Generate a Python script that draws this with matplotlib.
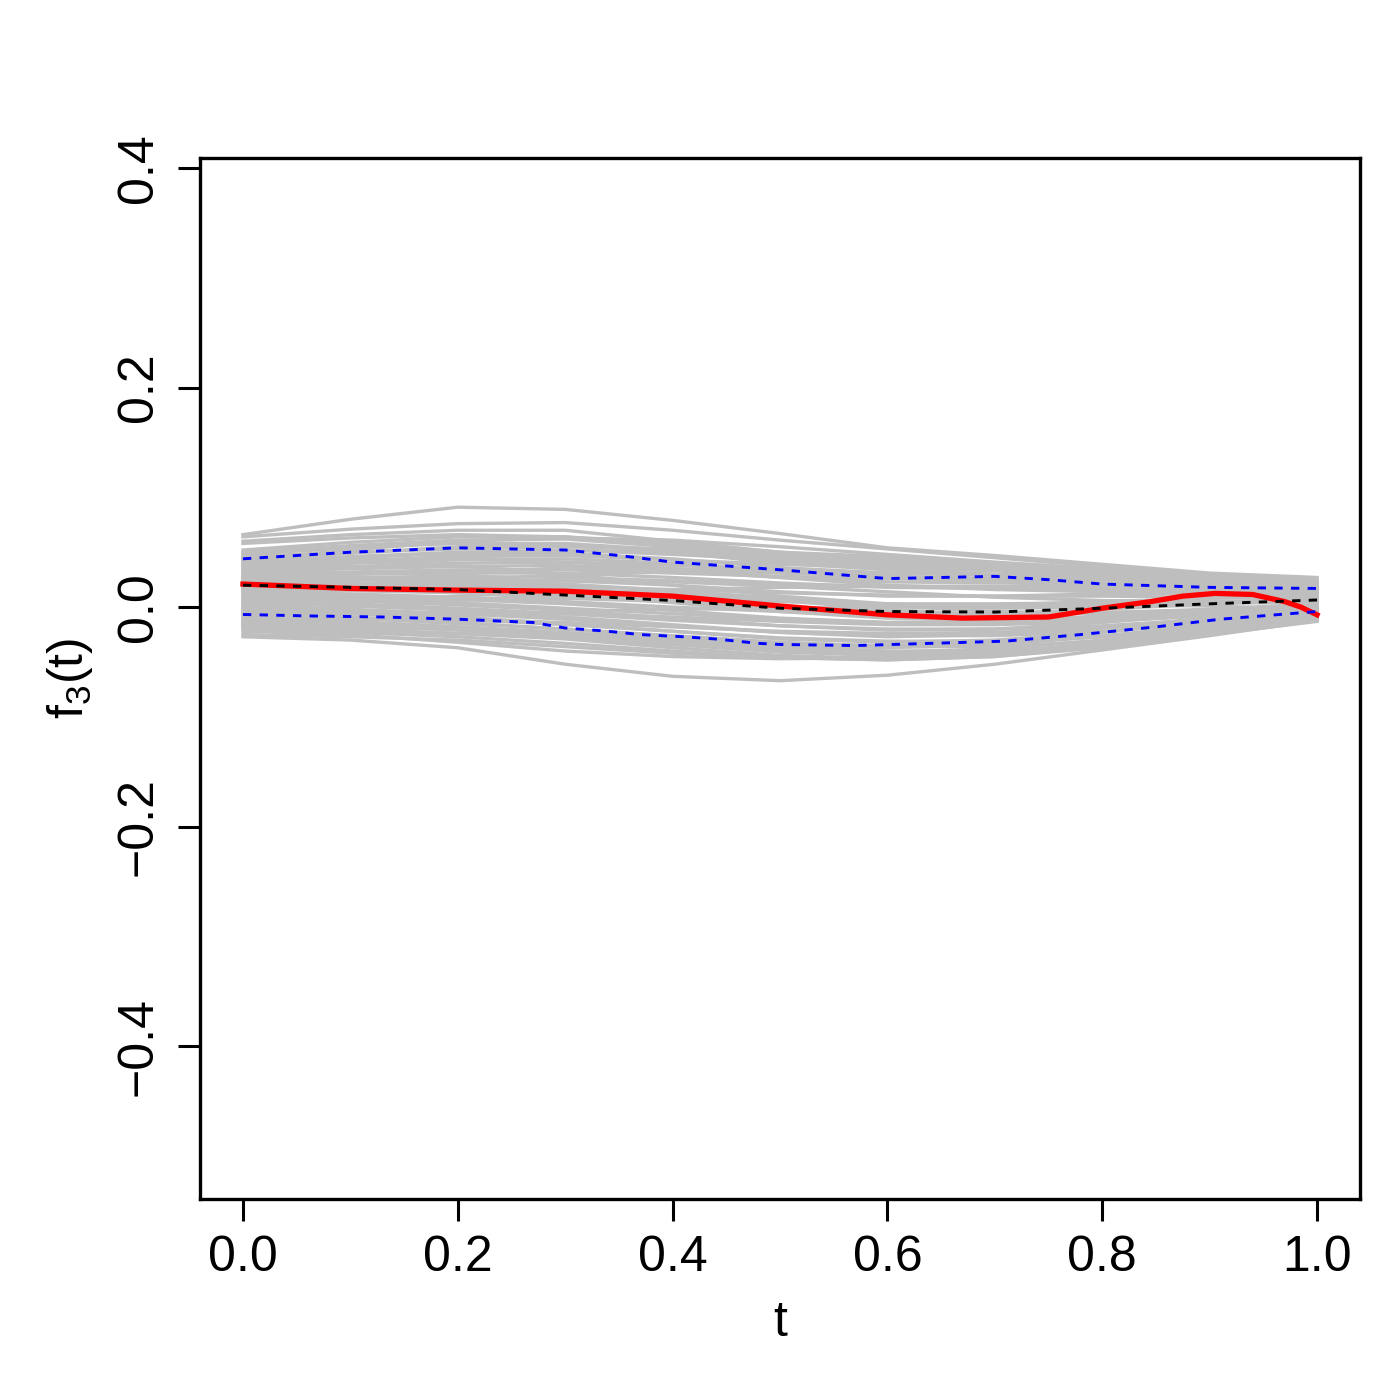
import matplotlib
matplotlib.use("Agg")
import matplotlib.pyplot as plt

plt.rcParams['font.family'] = ['Liberation Sans', 'DejaVu Sans']
plt.rcParams['mathtext.fontset'] = 'custom'
plt.rcParams['mathtext.rm'] = 'Liberation Sans'
plt.rcParams['mathtext.it'] = 'Liberation Sans:italic'
plt.rcParams['lines.scale_dashes'] = False

# grid of t where the grey sample curves were read
t_grid = [0.0, 0.1, 0.2, 0.3, 0.4, 0.5, 0.6, 0.7, 0.8, 0.9, 1.0]

# grey sample curves (inner ones estimated)
grey_curves = [
    [0.066, 0.080, 0.091, 0.089, 0.079, 0.067, 0.054, 0.047, 0.039, 0.031, 0.027],
    [0.064, 0.071, 0.076, 0.077, 0.070, 0.061, 0.053, 0.045, 0.037, 0.029, 0.024],
    [0.060, 0.066, 0.070, 0.070, 0.060, 0.050, 0.046, 0.040, 0.034, 0.027, 0.022],
    [0.058, 0.063, 0.066, 0.064, 0.056, 0.048, 0.043, 0.038, 0.033, 0.026, 0.020],
    [0.052, 0.059, 0.064, 0.064, 0.058, 0.050, 0.044, 0.039, 0.035, 0.030, 0.026],
    [0.050, 0.056, 0.061, 0.062, 0.055, 0.046, 0.040, 0.036, 0.033, 0.029, 0.024],
    [0.048, 0.054, 0.058, 0.058, 0.052, 0.044, 0.041, 0.038, 0.034, 0.030, 0.025],
    [0.046, 0.050, 0.053, 0.055, 0.053, 0.047, 0.042, 0.037, 0.031, 0.026, 0.021],
    [0.044, 0.049, 0.055, 0.057, 0.050, 0.040, 0.034, 0.030, 0.028, 0.027, 0.023],
    [0.042, 0.046, 0.050, 0.052, 0.048, 0.043, 0.038, 0.035, 0.032, 0.028, 0.022],
    [0.040, 0.045, 0.049, 0.049, 0.044, 0.036, 0.031, 0.029, 0.027, 0.024, 0.020],
    [0.038, 0.042, 0.046, 0.047, 0.043, 0.039, 0.036, 0.033, 0.029, 0.023, 0.018],
    [0.036, 0.040, 0.043, 0.044, 0.040, 0.033, 0.028, 0.026, 0.025, 0.022, 0.019],
    [0.034, 0.037, 0.040, 0.041, 0.038, 0.034, 0.031, 0.029, 0.026, 0.021, 0.016],
    [0.032, 0.035, 0.037, 0.038, 0.033, 0.027, 0.023, 0.022, 0.022, 0.020, 0.017],
    [0.030, 0.032, 0.034, 0.034, 0.031, 0.028, 0.026, 0.024, 0.021, 0.017, 0.014],
    [0.028, 0.030, 0.031, 0.031, 0.027, 0.022, 0.018, 0.017, 0.018, 0.017, 0.015],
    [0.026, 0.027, 0.028, 0.027, 0.024, 0.021, 0.019, 0.018, 0.016, 0.013, 0.011],
    [0.024, 0.025, 0.025, 0.024, 0.020, 0.014, 0.010, 0.010, 0.012, 0.013, 0.012],
    [0.022, 0.022, 0.021, 0.019, 0.016, 0.013, 0.011, 0.010, 0.010, 0.009, 0.008],
    [0.020, 0.020, 0.019, 0.017, 0.012, 0.006, 0.002, 0.002, 0.005, 0.008, 0.009],
    [0.018, 0.017, 0.015, 0.012, 0.008, 0.005, 0.003, 0.003, 0.004, 0.004, 0.004],
    [0.016, 0.015, 0.013, 0.010, 0.005, -0.002, -0.006, -0.006, -0.002, 0.003, 0.006],
    [0.014, 0.012, 0.009, 0.005, 0.000, -0.004, -0.007, -0.007, -0.005, -0.002, 0.000],
    [0.012, 0.010, 0.007, 0.003, -0.003, -0.010, -0.014, -0.013, -0.008, -0.002, 0.003],
    [0.010, 0.008, 0.004, -0.001, -0.006, -0.011, -0.014, -0.014, -0.012, -0.007, -0.003],
    [0.008, 0.006, 0.002, -0.003, -0.010, -0.017, -0.021, -0.020, -0.014, -0.006, 0.001],
    [0.006, 0.003, -0.001, -0.006, -0.012, -0.017, -0.020, -0.020, -0.017, -0.011, -0.005],
    [0.004, 0.001, -0.003, -0.009, -0.016, -0.023, -0.027, -0.025, -0.019, -0.010, -0.002],
    [0.002, -0.002, -0.006, -0.011, -0.017, -0.023, -0.026, -0.026, -0.022, -0.015, -0.007],
    [0.000, -0.004, -0.009, -0.015, -0.022, -0.029, -0.032, -0.030, -0.023, -0.013, -0.004],
    [-0.002, -0.006, -0.011, -0.016, -0.022, -0.028, -0.031, -0.031, -0.027, -0.018, -0.008],
    [-0.004, -0.009, -0.014, -0.020, -0.027, -0.034, -0.037, -0.034, -0.027, -0.016, -0.006],
    [-0.006, -0.010, -0.015, -0.020, -0.026, -0.032, -0.036, -0.036, -0.031, -0.021, -0.010],
    [-0.008, -0.013, -0.018, -0.024, -0.031, -0.038, -0.041, -0.038, -0.030, -0.018, -0.007],
    [-0.010, -0.014, -0.018, -0.023, -0.030, -0.036, -0.040, -0.040, -0.034, -0.023, -0.011],
    [-0.012, -0.016, -0.021, -0.027, -0.034, -0.041, -0.044, -0.041, -0.033, -0.020, -0.009],
    [-0.014, -0.017, -0.020, -0.025, -0.032, -0.039, -0.043, -0.042, -0.036, -0.024, -0.012],
    [-0.016, -0.020, -0.024, -0.029, -0.037, -0.044, -0.047, -0.044, -0.036, -0.022, -0.010],
    [-0.018, -0.021, -0.024, -0.028, -0.034, -0.040, -0.044, -0.043, -0.037, -0.025, -0.013],
    [-0.020, -0.023, -0.027, -0.033, -0.040, -0.046, -0.048, -0.045, -0.036, -0.022, -0.010],
    [-0.005, 0.000, 0.006, 0.012, 0.016, 0.018, 0.019, 0.019, 0.018, 0.016, 0.013],
    [0.030, 0.026, 0.020, 0.012, 0.004, -0.004, -0.010, -0.012, -0.010, -0.004, 0.002],
    [0.010, 0.016, 0.024, 0.030, 0.032, 0.031, 0.028, 0.025, 0.022, 0.018, 0.014],
    [0.045, 0.043, 0.038, 0.030, 0.020, 0.010, 0.003, -0.001, 0.000, 0.004, 0.008],
    [-0.015, -0.012, -0.008, -0.004, -0.002, -0.001, 0.000, 0.001, 0.002, 0.001, -0.002],
    [0.035, 0.040, 0.047, 0.052, 0.050, 0.045, 0.040, 0.035, 0.030, 0.024, 0.019],
    [0.000, 0.004, 0.010, 0.015, 0.013, 0.006, -0.002, -0.008, -0.010, -0.006, 0.000],
    [0.020, 0.024, 0.030, 0.036, 0.040, 0.041, 0.039, 0.034, 0.028, 0.021, 0.015],
    [0.027, 0.030, 0.033, 0.035, 0.035, 0.032, 0.028, 0.023, 0.018, 0.013, 0.009],
    [0.015, 0.018, 0.022, 0.024, 0.023, 0.019, 0.014, 0.009, 0.006, 0.005, 0.005],
    [0.005, 0.007, 0.008, 0.008, 0.005, 0.000, -0.004, -0.006, -0.005, -0.003, -0.001],
    [-0.007, -0.006, -0.005, -0.006, -0.009, -0.013, -0.016, -0.016, -0.013, -0.008, -0.004],
    [-0.011, -0.011, -0.012, -0.014, -0.018, -0.022, -0.024, -0.023, -0.019, -0.013, -0.006],
    [0.039, 0.043, 0.044, 0.041, 0.035, 0.027, 0.020, 0.016, 0.014, 0.013, 0.012],
    [0.019, 0.021, 0.023, 0.021, 0.015, 0.008, 0.001, -0.004, -0.006, -0.005, -0.002],
    [-0.018, -0.019, -0.020, -0.024, -0.028, -0.033, -0.035, -0.032, -0.026, -0.017, -0.008],
    [0.043, 0.052, 0.060, 0.063, 0.061, 0.055, 0.048, 0.041, 0.035, 0.028, 0.021],
    [-0.025, -0.027, -0.030, -0.036, -0.042, -0.046, -0.048, -0.045, -0.037, -0.024, -0.011],
    [-0.022, -0.025, -0.032, -0.040, -0.045, -0.047, -0.046, -0.042, -0.034, -0.022, -0.010],
    [-0.027, -0.030, -0.037, -0.052, -0.063, -0.067, -0.062, -0.052, -0.039, -0.026, -0.012],
]

# red estimate
red_t = [0.0, 0.1, 0.2, 0.3, 0.4, 0.5, 0.6, 0.67, 0.75, 0.8, 0.845, 0.875,
         0.905, 0.94, 0.97, 0.985, 1.0]
red_vals = [0.021, 0.017, 0.0155, 0.0145, 0.010, 0.001, -0.007, -0.010, -0.009,
            -0.001, 0.005, 0.010, 0.0125, 0.0115, 0.005, 0.000, -0.007]

# black dashed mean
mean_t = [0.0, 0.2, 0.4, 0.5, 0.6, 0.7, 0.8, 0.9, 1.0]
mean_vals = [0.020, 0.016, 0.006, -0.001, -0.004, -0.0045, -0.001, 0.003, 0.0065]

# blue dashed bands
upper_t = [0.0, 0.1, 0.2, 0.3, 0.35, 0.4, 0.5, 0.55, 0.6, 0.7, 0.75, 0.8, 0.9, 1.0]
upper_vals = [0.044, 0.050, 0.054, 0.052, 0.047, 0.041, 0.034, 0.030, 0.026,
              0.028, 0.025, 0.021, 0.018, 0.017]
lower_t = [0.0, 0.06, 0.13, 0.2, 0.27, 0.3, 0.34, 0.37, 0.41, 0.44, 0.48, 0.5,
           0.57, 0.64, 0.71, 0.78, 0.85, 0.91, 1.0]
lower_vals = [-0.0067, -0.008, -0.009, -0.011, -0.014, -0.019, -0.022, -0.025,
              -0.027, -0.029, -0.033, -0.034, -0.035, -0.033, -0.031, -0.025,
              -0.018, -0.011, -0.004]

x_ticks = [0.0, 0.2, 0.4, 0.6, 0.8, 1.0]
y_ticks = [-0.4, -0.2, 0.0, 0.2, 0.4]

fig = plt.figure(figsize=(7, 7), dpi=200)
ax = fig.add_axes([200 / 1400, 1 - 1199 / 1400, 1160 / 1400, 1041 / 1400])

for c in grey_curves:
    ax.plot(t_grid, c, color='#BEBEBE', lw=1.2, solid_joinstyle='round')

ax.plot(red_t, red_vals, color='#FF0000', lw=1.9, solid_joinstyle='round')
ax.plot(mean_t, mean_vals, color='black', lw=1.05, dashes=(3, 3))
ax.plot(upper_t, upper_vals, color='#0000FF', lw=1.05, dashes=(3, 3))
ax.plot(lower_t, lower_vals, color='#0000FF', lw=1.05, dashes=(3, 3))

ax.set_xlim(-0.04, 1.04)
ax.set_ylim(-0.539, 0.409)
ax.set_xticks(x_ticks)
ax.set_xticklabels(['%.1f' % v for v in x_ticks])
ax.set_yticks(y_ticks)
ax.set_yticklabels(['%.1f' % v if v >= 0 else '\u2212%.1f' % -v for v in y_ticks],
                   rotation=90, va='center')

for s in ax.spines.values():
    s.set_linewidth(1.2)
ax.tick_params(length=7.9, width=1.1, labelsize=18)
ax.tick_params(axis='x', pad=5)
ax.tick_params(axis='y', pad=5.8)

ax.set_xlabel('t', fontsize=18, labelpad=7)
ax.set_ylabel(r'$\mathregular{f_3(t)}$', fontsize=18, labelpad=7.5)

fig.savefig('out.png', dpi=200)
